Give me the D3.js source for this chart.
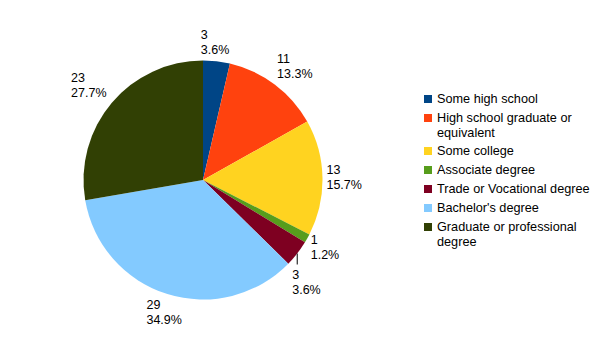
<!DOCTYPE html>
<html><head><meta charset="utf-8">
<script src="https://cdn.jsdelivr.net/npm/d3@7"></script>
<style>body{margin:0;background:#fff;} text{font-family:"Liberation Sans",Arial,sans-serif;}</style>
</head><body>
<svg id="c" width="605" height="340"></svg>
<script>
const categories = ["Some high school","High school graduate or equivalent","Some college","Associate degree","Trade or Vocational degree","Bachelor's degree","Graduate or professional degree"];
const legendLines = [["Some high school"],["High school graduate or","equivalent"],["Some college"],["Associate degree"],["Trade or Vocational degree"],["Bachelor's degree"],["Graduate or professional","degree"]];
const values = [3,11,13,1,3,29,23];
const percentLabels = ["3.6%","13.3%","15.7%","1.2%","3.6%","34.9%","27.7%"];
const colors = ["#004586","#ff420e","#ffd320","#579d1c","#7e0021","#83caff","#314004"];
const leaderLabels = [false,false,false,false,true,false,false];

const svg = d3.select("#c");
const cx = 203, cy = 180, r = 119.5;
const fs = 12.5;
const g = svg.append("g").attr("transform",`translate(${cx},${cy})`);
const pie = d3.pie().sort(null).value(d=>d)(values);
const arc = d3.arc().innerRadius(0).outerRadius(r);
g.selectAll("path.s").data(pie).join("path").attr("class","s")
  .attr("d",arc).attr("fill",(d,i)=>colors[i]);

const lineH = 15, asc = 11, desc = 3, blockH = lineH + asc + desc;
const meas = svg.append("text").attr("font-size",fs);
function tw(s){ meas.text(s); return meas.node().getComputedTextLength(); }

pie.forEach((d,i)=>{
  const th = (d.startAngle+d.endAngle)/2;
  const lines = [String(values[i]), percentLabels[i]];
  const w = Math.max(...lines.map(tw));
  let left, top;
  if (leaderLabels[i]) {
    const ex = r*Math.sin(th), ey = -r*Math.cos(th);
    g.append("line").attr("x1",ex).attr("y1",ey).attr("x2",ex).attr("y2",ey+11)
      .attr("stroke","#000").attr("stroke-width",1);
    left = ex - 5; top = ey + 15;
  } else {
    const R = r + 4;
    const px = R*Math.sin(th), py = -R*Math.cos(th);
    const s = Math.sin(th), c = Math.cos(th);
    if (Math.abs(s) < 0.38) left = px - w/2 - 2; else if (s > 0) left = px; else left = px - w - 2;
    if (c > 0.5) top = py - blockH;
    else if (c < -0.5) top = py;
    else top = py - blockH*(1+c)/2;
  }
  lines.forEach((t,k)=>{
    g.append("text").attr("x",left).attr("y",top+asc+k*lineH)
      .attr("font-size",fs).attr("fill","#000").text(t);
  });
});
meas.remove();

// legend
const lg = svg.append("g");
let y = 99;
legendLines.forEach((ls,i)=>{
  lg.append("rect").attr("x",424).attr("y",y-4).attr("width",8).attr("height",8).attr("fill",colors[i]);
  ls.forEach((t,k)=>{
    lg.append("text").attr("x",437).attr("y",y+4+k*15).attr("font-size",12.7).attr("fill","#000").text(t);
  });
  y += 19 + (ls.length-1)*14;
});
</script>
</body></html>
